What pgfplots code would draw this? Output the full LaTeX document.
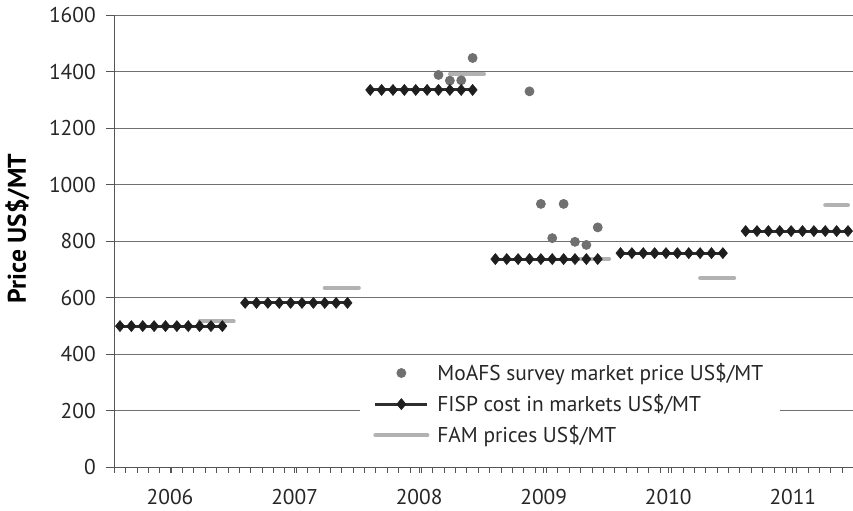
\documentclass[border=0pt]{standalone}
\usepackage{fontspec}
\setmainfont{PT Sans}
\usepackage{pgfplots}
\pgfplotsset{compat=1.18}
\definecolor{fisp}{HTML}{1E1E1E}
\definecolor{fispline}{HTML}{2E2E2E}
\definecolor{moafs}{HTML}{707070}
\definecolor{fam}{HTML}{B2B2B2}
\definecolor{gridc}{HTML}{707070}
\definecolor{axisc}{HTML}{555555}
\newcommand{\chartfont}{\fontsize{10.7pt}{12.8pt}\selectfont}
\begin{document}
\begin{tikzpicture}
\begin{axis}[
  at={(0,0)}, anchor=south west,
  scale only axis,
  width=369.35pt, height=226.25pt,
  xmin=0, xmax=64.94, ymin=0, ymax=1600,
  axis x line*=bottom, axis y line*=left,
  axis line style={draw=axisc, line width=0.6pt},
  xtick={0,1,...,64}, xticklabels={},
  xtick style={draw=axisc, line width=0.5pt, /pgfplots/major tick length=2.5pt},
  ytick={0,200,...,1600},
  ytick style={draw=axisc, line width=0.5pt, /pgfplots/major tick length=4pt},
  tick align=outside,
  ymajorgrids, xmajorgrids=false,
  major grid style={draw=gridc, line width=0.5pt},
  extra x ticks={4.9,15.85,26.8,37.75,48.7,59.65},
  extra x tick labels={2006,2007,2008,2009,2010,2011},
  extra x tick style={major tick length=0pt, grid=none,
     tick label style={yshift=-7.5pt}},
  /pgf/number format/1000 sep={},
  /pgf/number format/assume math mode=true,
  tick label style={font=\chartfont, text=black!85},
  yticklabel style={xshift=-1.5pt},
  ylabel={\textbf{Price US\$/MT}},
  ylabel style={at={(axis description cs:-0.1313,0.528)}, anchor=center,
     font=\fontsize{12.8pt}{14pt}\selectfont},
  unbounded coords=jump,
  legend image code/.code={\draw[mark repeat=2,mark phase=2,#1] plot coordinates {(0pt,0pt) (13pt,0pt) (26pt,0pt)};},
  legend style={at={(0.3326,0.243)}, anchor=north west, draw=none, fill=white,
     font=\chartfont, text=black!85, inner xsep=6.5pt, inner ysep=0.5pt, row sep=1.5pt,
     /tikz/every odd column/.append style={column sep=2pt}},
  legend cell align=left,
]
% MoAFS survey market price
\addplot[only marks, mark=*, mark size=2.25pt, color=moafs, mark options={draw=moafs, fill=moafs}]
coordinates {
(28.5,1388) (29.5,1368) (30.5,1369) (31.5,1448) (36.5,1330)
(37.5,932) (38.5,811) (39.5,932) (40.5,798) (41.5,787) (42.5,849)
};
\addlegendentry{MoAFS survey market price US\$/MT}
% FISP cost
\addplot[color=fispline, line width=1.5pt, mark=diamond*, mark size=2.75pt,
  mark options={draw=fisp, fill=fisp, line width=0.3pt, xscale=1.1}]
coordinates {
(0.5,500) (1.5,500) (2.5,500) (3.5,500) (4.5,500) (5.5,500) (6.5,500) (7.5,500) (8.5,500) (9.5,500)
(10.5,nan)
(11.5,582) (12.5,582) (13.5,582) (14.5,582) (15.5,582) (16.5,582) (17.5,582) (18.5,582) (19.5,582) (20.5,582)
(21.5,nan)
(22.5,1335) (23.5,1335) (24.5,1335) (25.5,1335) (26.5,1335) (27.5,1335) (28.5,1335) (29.5,1335) (30.5,1335) (31.5,1335)
(32.5,nan)
(33.5,737) (34.5,737) (35.5,737) (36.5,737) (37.5,737) (38.5,737) (39.5,737) (40.5,737) (41.5,737) (42.5,737)
(43.5,nan)
(44.5,758) (45.5,758) (46.5,758) (47.5,758) (48.5,758) (49.5,758) (50.5,758) (51.5,758) (52.5,758) (53.5,758)
(54.5,nan)
(55.5,836) (56.5,836) (57.5,836) (58.5,836) (59.5,836) (60.5,836) (61.5,836) (62.5,836) (63.5,836) (64.5,836)
};
\addlegendentry{FISP cost in markets US\$/MT}
% FAM prices
\addplot[color=fam, line width=2pt, line cap=round, no marks]
coordinates {
(7.5,517) (8.5,517) (9.5,517) (10.5,517)
(11,nan)
(18.5,635) (19.5,635) (20.5,635) (21.5,635)
(22,nan)
(29.5,1392) (30.5,1392) (31.5,1392) (32.5,1392)
(33,nan)
(40.5,738) (41.5,738) (42.5,738) (43.5,738)
(44,nan)
(51.5,670) (52.5,670) (53.5,670) (54.5,670)
(55,nan)
(62.5,927) (63.5,927) (64.5,927)
};
\addlegendentry{FAM prices US\$/MT}
\end{axis}
\pgfresetboundingbox
\path (-57.15pt,-21.25pt) rectangle (369.35pt,233.75pt);
\end{tikzpicture}
\end{document}
